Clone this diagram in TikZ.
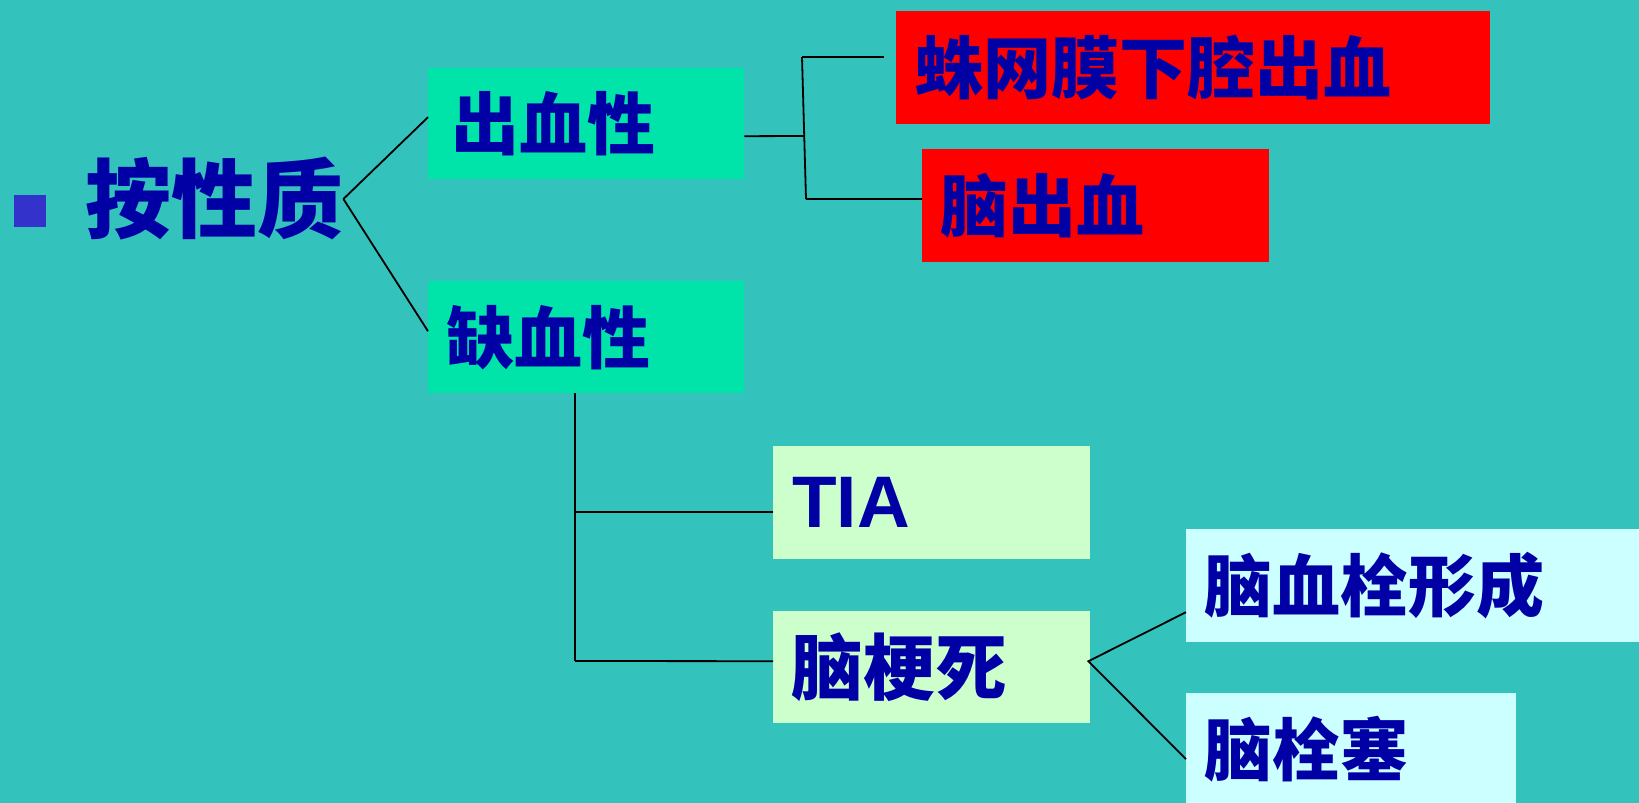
\documentclass[tikz,border=0pt]{standalone}
\usepackage{fontspec}
\setmainfont{Liberation Sans}
\newfontfamily\cjk{Noto Sans CJK SC}
\definecolor{bg}{RGB}{52,194,188}
\definecolor{txt}{RGB}{0,0,165}
\definecolor{bul}{RGB}{51,51,204}
\definecolor{mint}{RGB}{0,228,170}
\definecolor{lgreen}{RGB}{204,255,204}
\definecolor{lcyan}{RGB}{204,255,255}
\definecolor{redbox}{RGB}{255,0,0}
\begin{document}
\begin{tikzpicture}[x=1pt,y=-1pt,
  box/.style={anchor=north west, inner ysep=0pt, minimum height=113pt, align=left,
    font=\cjk\bfseries\fontsize{68}{70}\selectfont, text=txt},
  conn/.style={draw=black, line width=1.8pt}]
\fill[bg] (0,0) rectangle (1639,803);
\useasboundingbox (0,0) rectangle (1639,803);

\node[fill=bul, minimum size=32pt, inner sep=0pt, anchor=north west] (bullet) at (14,195) {};
\node[anchor=west, inner sep=0pt, font=\cjk\bfseries\fontsize{86}{90}\selectfont, text=txt] (root) at (85,199) {按性质};

\node[box, fill=mint, minimum height=111pt, inner xsep=23pt, text width=270pt] (hem) at (428,68) {出血性};
\node[box, fill=mint, minimum height=112pt, inner xsep=18pt, text width=280pt] (isc) at (428,281) {缺血性};
\node[box, fill=redbox, inner xsep=19pt, text width=556pt] (sah) at (896,11) {蛛网膜下腔出血};
\node[box, fill=redbox, inner xsep=18pt, text width=311pt] (ich) at (922,149) {脑出血};
\node[box, fill=lgreen, inner xsep=19pt, text width=279pt, font=\bfseries\fontsize{73}{76}\selectfont] (tia) at (773,446) {TIA};
\node[box, fill=lgreen, minimum height=112pt, inner xsep=18pt, text width=281pt, font=\cjk\bfseries\fontsize{72}{74}\selectfont] (inf) at (773,611) {脑梗死};
\node[box, fill=lcyan, inner xsep=18pt, text width=424pt] (thr) at (1186,529) {脑血栓形成};
\node[box, fill=lcyan, inner xsep=18pt, text width=294pt] (emb) at (1186,693) {脑栓塞};

% root branches
\draw[conn] (root.east) -- ([yshift=6.5pt]hem.west);
\draw[conn] (root.east) -- ([yshift=6pt]isc.west);

% haemorrhagic bracket
\coordinate (bt) at (802,57);
\coordinate (bb) at (806,199);
\coordinate (bm) at (804,136);
\draw[conn] ([yshift=-12.5pt]hem.east) -- (bm);
\draw[conn] (bt) -- (bb);
\draw[conn] (bt) -- ([xshift=-12pt]sah.west |- bt);
\draw[conn] (bb) -- (ich.west |- bb);

% ischaemic bracket
\coordinate (vb) at (575,661);
\coordinate (tl) at ([yshift=-9.5pt]tia.west);
\draw[conn] ([xshift=147pt]isc.south west) -- (vb);
\draw[conn] (tl -| vb) -- (tl);
\draw[conn] (vb) -- ([yshift=6pt]inf.west);

% infarction branches
\coordinate (ib) at ([xshift=-2pt,yshift=6pt]inf.east);
\draw[conn] ([yshift=-26.5pt]thr.west) -- (ib) -- ([yshift=-9.5pt]emb.west);
\end{tikzpicture}
\end{document}
